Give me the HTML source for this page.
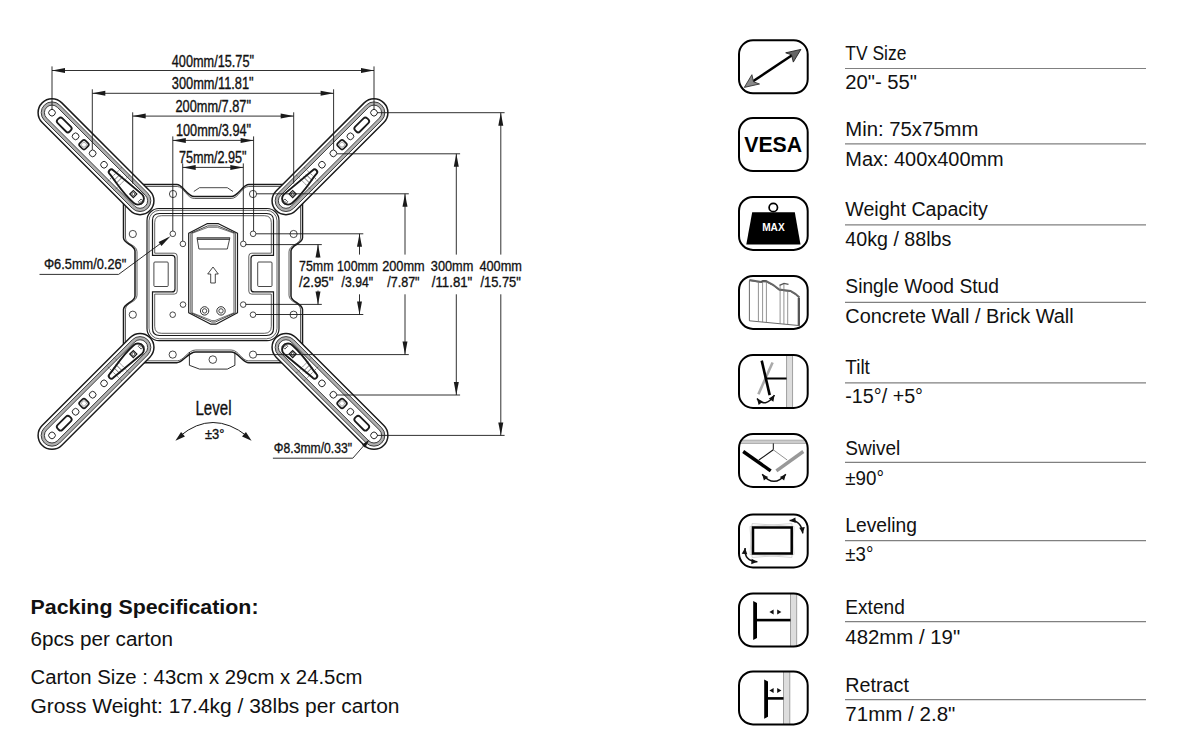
<!DOCTYPE html><html><head><meta charset="utf-8"><style>html,body{margin:0;padding:0;background:#fff;}svg{display:block;} text{font-family:"Liberation Sans", sans-serif;}</style></head><body>
<svg width="1185" height="740" viewBox="0 0 1185 740">
<defs><clipPath id="bx"><rect x="1" y="1" width="68.7" height="53" rx="14"/></clipPath></defs>
<rect width="1185" height="740" fill="#fff"/>
<g><path d="M123.5,184.5 L176.7,184.5 C183.0,184.5 187,196.5 194.4,196.5 L231.1,196.5 C238.5,196.5 242.5,184.5 248.9,184.5 L302.5,184.5 L302.5,237.7 C302.5,244.0 291,244.5 291,251.0 L291,296.0 C291,302.5 302.5,303.0 302.5,309.6 L302.5,362.8 L248.9,362.8 C242.5,362.8 238.5,352 231.1,352 L195.7,352 C188,352 183.0,362.8 176.7,362.8 L123.5,362.8 L123.5,309.6 C123.5,303.0 135,302.5 135,296.0 L135,251.0 C135,244.5 123.5,244.0 123.5,237.7 Z" fill="#fff" stroke="#1a1a1a" stroke-width="1.5"/><path d="M125.5,186.5 L177.29999999999998,186.5 C183.6,186.5 187,198.5 194.4,198.5 L231.1,198.5 C238.5,198.5 241.9,186.5 248.3,186.5 L300.5,186.5 L300.5,238.1 C300.5,244.4 289,244.5 289,251.8 L289,295.2 C289,302.5 300.5,302.6 300.5,309.20000000000005 L300.5,360.8 L248.3,360.8 C241.9,360.8 238.5,350 231.1,350 L195.7,350 C188,350 183.6,360.8 177.29999999999998,360.8 L125.5,360.8 L125.5,309.20000000000005 C125.5,302.6 137,302.5 137,295.2 L137,251.8 C137,244.5 125.5,244.4 125.5,238.1 Z" fill="none" stroke="#333" stroke-width="0.8"/><path d="M193.8,191.5 L199.5,187.7 L227.3,187.7 L233,191.5" fill="none" stroke="#1a1a1a" stroke-width="0.8"/><path d="M189.4,352 L189.4,365.3 L199.5,369.1 L227.3,369.1 L234.9,365.3 L234.9,352" fill="none" stroke="#1a1a1a" stroke-width="0.9"/><circle cx="212.8" cy="359.6" r="3.8" fill="none" stroke="#1a1a1a" stroke-width="0.8"/><rect x="147" y="208.5" width="132" height="132.10000000000002" rx="12" fill="none" stroke="#1a1a1a" stroke-width="1.2"/><rect x="149" y="210.3" width="128" height="128.5" rx="10.5" fill="none" stroke="#1a1a1a" stroke-width="0.7"/><path d="M159.5,213.5 L266.5,213.5 Q273.5,213.5 273.5,220.5 L273.5,255.4 L254,255.4 Q251,255.4 251,258.4 L251,288.9 Q251,291.9 254,291.9 L273.5,291.9 L273.5,328.5 Q273.5,335.5 266.5,335.5 L159.5,335.5 Q152.5,335.5 152.5,328.5 L152.5,291.9 L172,291.9 Q175,291.9 175,288.9 L175,258.4 Q175,255.4 172,255.4 L152.5,255.4 L152.5,220.5 Q152.5,213.5 159.5,213.5 Z" fill="none" stroke="#1a1a1a" stroke-width="1.2"/><path d="M161.7,215.7 L264.3,215.7 Q271.3,215.7 271.3,222.7 L271.3,253.20000000000002 L251.8,253.20000000000002 Q248.8,253.20000000000002 248.8,256.20000000000005 L248.8,291.09999999999997 Q248.8,294.09999999999997 251.8,294.09999999999997 L271.3,294.09999999999997 L271.3,326.3 Q271.3,333.3 264.3,333.3 L161.7,333.3 Q154.7,333.3 154.7,326.3 L154.7,294.09999999999997 L174.2,294.09999999999997 Q177.2,294.09999999999997 177.2,291.09999999999997 L177.2,256.20000000000005 Q177.2,253.20000000000002 174.2,253.20000000000002 L154.7,253.20000000000002 L154.7,222.7 Q154.7,215.7 161.7,215.7 Z" fill="none" stroke="#1a1a1a" stroke-width="0.7"/><rect x="153.9" y="262" width="14.3" height="24.5" rx="1" fill="none" stroke="#1a1a1a" stroke-width="0.8"/><rect x="257.7" y="262" width="14.3" height="24.5" rx="1" fill="none" stroke="#1a1a1a" stroke-width="0.8"/><path d="M188.7,233.2 L207.0,223.7 L218.5,223.7 L237.5,233.2 L237.5,312.8 L216.0,324.2 L210.9,324.2 L188.7,312.8 Z" fill="none" stroke="#1a1a1a" stroke-width="1.2" stroke-linejoin="round"/><path d="M190.89999999999998,233.2 L207.66,225.89999999999998 L217.84,225.89999999999998 L235.3,233.2 L235.3,312.8 L215.34,322.0 L211.56,322.0 L190.89999999999998,312.8 Z" fill="none" stroke="#1a1a1a" stroke-width="0.8" stroke-linejoin="round"/><path d="M192.29999999999998,233.2 L208.08,227.29999999999998 L217.42,227.29999999999998 L233.9,233.2 L233.9,312.8 L214.92,320.59999999999997 L211.98000000000002,320.59999999999997 L192.29999999999998,312.8 Z" fill="none" stroke="#1a1a1a" stroke-width="0.6" stroke-linejoin="round"/><path d="M197,237.7 L229.9,237.7 L227.3,249 L198.9,249 Z" fill="none" stroke="#1a1a1a" stroke-width="0.8"/><line x1="197.3" y1="239.2" x2="229.6" y2="239.2" stroke="#1a1a1a" stroke-width="1.3" /><path d="M213,267 L218.3,274 L215.3,274 L215.3,283 L210.7,283 L210.7,274 L207.7,274 Z" fill="none" stroke="#1a1a1a" stroke-width="0.8"/><circle cx="204.6" cy="310.9" r="4.2" fill="none" stroke="#1a1a1a" stroke-width="0.9"/><circle cx="204.6" cy="310.9" r="2.2" fill="none" stroke="#1a1a1a" stroke-width="0.8"/><circle cx="221" cy="310.9" r="4.2" fill="none" stroke="#1a1a1a" stroke-width="0.9"/><circle cx="221" cy="310.9" r="2.2" fill="none" stroke="#1a1a1a" stroke-width="0.8"/><circle cx="173" cy="194" r="3.6" fill="none" stroke="#1a1a1a" stroke-width="0.8"/><circle cx="253" cy="194" r="3.6" fill="none" stroke="#1a1a1a" stroke-width="0.8"/><circle cx="132.8" cy="234" r="3.6" fill="none" stroke="#1a1a1a" stroke-width="0.8"/><circle cx="293.6" cy="234" r="3.6" fill="none" stroke="#1a1a1a" stroke-width="0.8"/><circle cx="132.8" cy="314.7" r="3.6" fill="none" stroke="#1a1a1a" stroke-width="0.8"/><circle cx="293.6" cy="314.7" r="3.6" fill="none" stroke="#1a1a1a" stroke-width="0.8"/><circle cx="172.7" cy="354.6" r="3.6" fill="none" stroke="#1a1a1a" stroke-width="0.8"/><circle cx="253" cy="354.6" r="3.6" fill="none" stroke="#1a1a1a" stroke-width="0.8"/><circle cx="172.8" cy="233.8" r="2.8" fill="none" stroke="#1a1a1a" stroke-width="0.8"/><circle cx="253.1" cy="233.8" r="2.8" fill="none" stroke="#1a1a1a" stroke-width="0.8"/><circle cx="182.9" cy="243.9" r="2.8" fill="none" stroke="#1a1a1a" stroke-width="0.8"/><circle cx="243.3" cy="243.9" r="2.8" fill="none" stroke="#1a1a1a" stroke-width="0.8"/><circle cx="183" cy="304.6" r="2.8" fill="none" stroke="#1a1a1a" stroke-width="0.8"/><circle cx="243.2" cy="304.6" r="2.8" fill="none" stroke="#1a1a1a" stroke-width="0.8"/><circle cx="172.7" cy="314.7" r="2.8" fill="none" stroke="#1a1a1a" stroke-width="0.8"/><circle cx="253" cy="314.7" r="2.8" fill="none" stroke="#1a1a1a" stroke-width="0.8"/></g>
<g transform="translate(52,112.7) rotate(45)"><path d="M0,-13.9 L124.5,-13.9 A13.9,13.9 0 0 1 124.5,13.9 L0,13.9 A13.9,13.9 0 0 1 0,-13.9 Z" fill="#fff" stroke="#1a1a1a" stroke-width="1.5"/><path d="M0,-9.2 L124.5,-9.2 A9.2,9.2 0 0 1 124.5,9.2 L0,9.2 A9.2,9.2 0 0 1 0,-9.2 Z" fill="none" stroke="#b0b0b0" stroke-width="3.0"/><path d="M0,-10.8 L124.5,-10.8 A10.8,10.8 0 0 1 124.5,10.8 L0,10.8 A10.8,10.8 0 0 1 0,-10.8 Z" fill="none" stroke="#333" stroke-width="0.9"/><path d="M0,-7.6 L124.5,-7.6 A7.6,7.6 0 0 1 124.5,7.6 L0,7.6 A7.6,7.6 0 0 1 0,-7.6 Z" fill="none" stroke="#333" stroke-width="0.9"/><circle cx="0" cy="0" r="3.3" fill="none" stroke="#1a1a1a" stroke-width="0.9"/><rect x="8.8" y="-3.4" width="17" height="6.8" rx="2.6" fill="none" stroke="#1a1a1a" stroke-width="1.8"/><circle cx="33.4" cy="0" r="3.3" fill="none" stroke="#1a1a1a" stroke-width="0.9"/><rect x="41.2" y="-4" width="8" height="8" rx="2.2" fill="none" stroke="#1a1a1a" stroke-width="1.7"/><rect x="43" y="-2.2" width="4.4" height="4.4" rx="1" fill="none" stroke="#666" stroke-width="0.6"/><circle cx="57.5" cy="0" r="3.3" fill="none" stroke="#1a1a1a" stroke-width="0.9"/><circle cx="73.6" cy="0" r="3.3" fill="none" stroke="#1a1a1a" stroke-width="0.9"/><path d="M88,-11 L88,11 M99,-11 L99,11" fill="none" stroke="#444" stroke-width="0.7" stroke-dasharray="2,1"/><path d="M91.7,-4.5 L91.7,4.5 M95.3,-4.8 L95.3,4.8" fill="none" stroke="#333" stroke-width="0.7"/><path d="M84,2.6 C95,3.5 105,7 121.5,6 A6,6 0 0 0 121.5,-6 L84,-2.6 A2.6,2.6 0 0 0 84,2.6 Z" fill="none" stroke="#1a1a1a" stroke-width="1.9" stroke-linejoin="round"/><rect x="112.5" y="-2.5" width="5" height="5" fill="none" stroke="#1a1a1a" stroke-width="1.2"/><circle cx="115" cy="0" r="1.5" fill="none" stroke="#1a1a1a" stroke-width="0.7"/><rect x="124" y="-2" width="4" height="4" fill="none" stroke="#333" stroke-width="0.8"/><path d="M124,0 L128,0 M126,-2 L126,2" stroke="#555" stroke-width="0.5"/></g>
<g transform="translate(426,0) scale(-1,1) translate(52,112.7) rotate(45)"><path d="M0,-13.9 L124.5,-13.9 A13.9,13.9 0 0 1 124.5,13.9 L0,13.9 A13.9,13.9 0 0 1 0,-13.9 Z" fill="#fff" stroke="#1a1a1a" stroke-width="1.5"/><path d="M0,-9.2 L124.5,-9.2 A9.2,9.2 0 0 1 124.5,9.2 L0,9.2 A9.2,9.2 0 0 1 0,-9.2 Z" fill="none" stroke="#b0b0b0" stroke-width="3.0"/><path d="M0,-10.8 L124.5,-10.8 A10.8,10.8 0 0 1 124.5,10.8 L0,10.8 A10.8,10.8 0 0 1 0,-10.8 Z" fill="none" stroke="#333" stroke-width="0.9"/><path d="M0,-7.6 L124.5,-7.6 A7.6,7.6 0 0 1 124.5,7.6 L0,7.6 A7.6,7.6 0 0 1 0,-7.6 Z" fill="none" stroke="#333" stroke-width="0.9"/><circle cx="0" cy="0" r="3.3" fill="none" stroke="#1a1a1a" stroke-width="0.9"/><rect x="8.8" y="-3.4" width="17" height="6.8" rx="2.6" fill="none" stroke="#1a1a1a" stroke-width="1.8"/><circle cx="33.4" cy="0" r="3.3" fill="none" stroke="#1a1a1a" stroke-width="0.9"/><rect x="41.2" y="-4" width="8" height="8" rx="2.2" fill="none" stroke="#1a1a1a" stroke-width="1.7"/><rect x="43" y="-2.2" width="4.4" height="4.4" rx="1" fill="none" stroke="#666" stroke-width="0.6"/><circle cx="57.5" cy="0" r="3.3" fill="none" stroke="#1a1a1a" stroke-width="0.9"/><circle cx="73.6" cy="0" r="3.3" fill="none" stroke="#1a1a1a" stroke-width="0.9"/><path d="M88,-11 L88,11 M99,-11 L99,11" fill="none" stroke="#444" stroke-width="0.7" stroke-dasharray="2,1"/><path d="M91.7,-4.5 L91.7,4.5 M95.3,-4.8 L95.3,4.8" fill="none" stroke="#333" stroke-width="0.7"/><path d="M84,2.6 C95,3.5 105,7 121.5,6 A6,6 0 0 0 121.5,-6 L84,-2.6 A2.6,2.6 0 0 0 84,2.6 Z" fill="none" stroke="#1a1a1a" stroke-width="1.9" stroke-linejoin="round"/><rect x="112.5" y="-2.5" width="5" height="5" fill="none" stroke="#1a1a1a" stroke-width="1.2"/><circle cx="115" cy="0" r="1.5" fill="none" stroke="#1a1a1a" stroke-width="0.7"/><rect x="124" y="-2" width="4" height="4" fill="none" stroke="#333" stroke-width="0.8"/><path d="M124,0 L128,0 M126,-2 L126,2" stroke="#555" stroke-width="0.5"/></g>
<g transform="translate(0,548.1) scale(1,-1) translate(52,112.7) rotate(45)"><path d="M0,-13.9 L124.5,-13.9 A13.9,13.9 0 0 1 124.5,13.9 L0,13.9 A13.9,13.9 0 0 1 0,-13.9 Z" fill="#fff" stroke="#1a1a1a" stroke-width="1.5"/><path d="M0,-9.2 L124.5,-9.2 A9.2,9.2 0 0 1 124.5,9.2 L0,9.2 A9.2,9.2 0 0 1 0,-9.2 Z" fill="none" stroke="#b0b0b0" stroke-width="3.0"/><path d="M0,-10.8 L124.5,-10.8 A10.8,10.8 0 0 1 124.5,10.8 L0,10.8 A10.8,10.8 0 0 1 0,-10.8 Z" fill="none" stroke="#333" stroke-width="0.9"/><path d="M0,-7.6 L124.5,-7.6 A7.6,7.6 0 0 1 124.5,7.6 L0,7.6 A7.6,7.6 0 0 1 0,-7.6 Z" fill="none" stroke="#333" stroke-width="0.9"/><circle cx="0" cy="0" r="3.3" fill="none" stroke="#1a1a1a" stroke-width="0.9"/><rect x="8.8" y="-3.4" width="17" height="6.8" rx="2.6" fill="none" stroke="#1a1a1a" stroke-width="1.8"/><circle cx="33.4" cy="0" r="3.3" fill="none" stroke="#1a1a1a" stroke-width="0.9"/><rect x="41.2" y="-4" width="8" height="8" rx="2.2" fill="none" stroke="#1a1a1a" stroke-width="1.7"/><rect x="43" y="-2.2" width="4.4" height="4.4" rx="1" fill="none" stroke="#666" stroke-width="0.6"/><circle cx="57.5" cy="0" r="3.3" fill="none" stroke="#1a1a1a" stroke-width="0.9"/><circle cx="73.6" cy="0" r="3.3" fill="none" stroke="#1a1a1a" stroke-width="0.9"/><path d="M88,-11 L88,11 M99,-11 L99,11" fill="none" stroke="#444" stroke-width="0.7" stroke-dasharray="2,1"/><path d="M91.7,-4.5 L91.7,4.5 M95.3,-4.8 L95.3,4.8" fill="none" stroke="#333" stroke-width="0.7"/><path d="M84,2.6 C95,3.5 105,7 121.5,6 A6,6 0 0 0 121.5,-6 L84,-2.6 A2.6,2.6 0 0 0 84,2.6 Z" fill="none" stroke="#1a1a1a" stroke-width="1.9" stroke-linejoin="round"/><rect x="112.5" y="-2.5" width="5" height="5" fill="none" stroke="#1a1a1a" stroke-width="1.2"/><circle cx="115" cy="0" r="1.5" fill="none" stroke="#1a1a1a" stroke-width="0.7"/><rect x="124" y="-2" width="4" height="4" fill="none" stroke="#333" stroke-width="0.8"/><path d="M124,0 L128,0 M126,-2 L126,2" stroke="#555" stroke-width="0.5"/></g>
<g transform="translate(426,548.1) scale(-1,-1) translate(52,112.7) rotate(45)"><path d="M0,-13.9 L124.5,-13.9 A13.9,13.9 0 0 1 124.5,13.9 L0,13.9 A13.9,13.9 0 0 1 0,-13.9 Z" fill="#fff" stroke="#1a1a1a" stroke-width="1.5"/><path d="M0,-9.2 L124.5,-9.2 A9.2,9.2 0 0 1 124.5,9.2 L0,9.2 A9.2,9.2 0 0 1 0,-9.2 Z" fill="none" stroke="#b0b0b0" stroke-width="3.0"/><path d="M0,-10.8 L124.5,-10.8 A10.8,10.8 0 0 1 124.5,10.8 L0,10.8 A10.8,10.8 0 0 1 0,-10.8 Z" fill="none" stroke="#333" stroke-width="0.9"/><path d="M0,-7.6 L124.5,-7.6 A7.6,7.6 0 0 1 124.5,7.6 L0,7.6 A7.6,7.6 0 0 1 0,-7.6 Z" fill="none" stroke="#333" stroke-width="0.9"/><circle cx="0" cy="0" r="3.3" fill="none" stroke="#1a1a1a" stroke-width="0.9"/><rect x="8.8" y="-3.4" width="17" height="6.8" rx="2.6" fill="none" stroke="#1a1a1a" stroke-width="1.8"/><circle cx="33.4" cy="0" r="3.3" fill="none" stroke="#1a1a1a" stroke-width="0.9"/><rect x="41.2" y="-4" width="8" height="8" rx="2.2" fill="none" stroke="#1a1a1a" stroke-width="1.7"/><rect x="43" y="-2.2" width="4.4" height="4.4" rx="1" fill="none" stroke="#666" stroke-width="0.6"/><circle cx="57.5" cy="0" r="3.3" fill="none" stroke="#1a1a1a" stroke-width="0.9"/><circle cx="73.6" cy="0" r="3.3" fill="none" stroke="#1a1a1a" stroke-width="0.9"/><path d="M88,-11 L88,11 M99,-11 L99,11" fill="none" stroke="#444" stroke-width="0.7" stroke-dasharray="2,1"/><path d="M91.7,-4.5 L91.7,4.5 M95.3,-4.8 L95.3,4.8" fill="none" stroke="#333" stroke-width="0.7"/><path d="M84,2.6 C95,3.5 105,7 121.5,6 A6,6 0 0 0 121.5,-6 L84,-2.6 A2.6,2.6 0 0 0 84,2.6 Z" fill="none" stroke="#1a1a1a" stroke-width="1.9" stroke-linejoin="round"/><rect x="112.5" y="-2.5" width="5" height="5" fill="none" stroke="#1a1a1a" stroke-width="1.2"/><circle cx="115" cy="0" r="1.5" fill="none" stroke="#1a1a1a" stroke-width="0.7"/><rect x="124" y="-2" width="4" height="4" fill="none" stroke="#333" stroke-width="0.8"/><path d="M124,0 L128,0 M126,-2 L126,2" stroke="#555" stroke-width="0.5"/></g>
<g><line x1="52" y1="70.5" x2="374" y2="70.5" stroke="#1a1a1a" stroke-width="0.9" /><path d="M52.00,70.50L65.00,68.00L65.00,73.00Z" fill="#1a1a1a"/><path d="M374.00,70.50L361.00,73.00L361.00,68.00Z" fill="#1a1a1a"/><line x1="52" y1="66.4" x2="52" y2="109.5" stroke="#1a1a1a" stroke-width="0.9" /><line x1="374" y1="66.4" x2="374" y2="109.5" stroke="#1a1a1a" stroke-width="0.9" /><line x1="92.3" y1="93.3" x2="333.6" y2="93.3" stroke="#1a1a1a" stroke-width="0.9" /><path d="M92.30,93.30L105.30,90.80L105.30,95.80Z" fill="#1a1a1a"/><path d="M333.60,93.30L320.60,95.80L320.60,90.80Z" fill="#1a1a1a"/><line x1="92.3" y1="89.3" x2="92.3" y2="149.8" stroke="#1a1a1a" stroke-width="0.9" /><line x1="333.6" y1="89.3" x2="333.6" y2="149.8" stroke="#1a1a1a" stroke-width="0.9" /><line x1="132.7" y1="116.1" x2="293.7" y2="116.1" stroke="#1a1a1a" stroke-width="0.9" /><path d="M132.70,116.10L145.70,113.60L145.70,118.60Z" fill="#1a1a1a"/><path d="M293.70,116.10L280.70,118.60L280.70,113.60Z" fill="#1a1a1a"/><line x1="132.7" y1="112.3" x2="132.7" y2="183.5" stroke="#1a1a1a" stroke-width="0.9" /><line x1="293.7" y1="112.3" x2="293.7" y2="183.5" stroke="#1a1a1a" stroke-width="0.9" /><line x1="172.8" y1="140.4" x2="253.6" y2="140.4" stroke="#1a1a1a" stroke-width="0.9" /><path d="M172.80,140.40L185.80,137.90L185.80,142.90Z" fill="#1a1a1a"/><path d="M253.60,140.40L240.60,142.90L240.60,137.90Z" fill="#1a1a1a"/><line x1="172.8" y1="136.4" x2="172.8" y2="231" stroke="#1a1a1a" stroke-width="0.9" /><line x1="253.6" y1="136.4" x2="253.6" y2="231" stroke="#1a1a1a" stroke-width="0.9" /><line x1="182.7" y1="167.4" x2="243.3" y2="167.4" stroke="#1a1a1a" stroke-width="0.9" /><path d="M182.70,167.40L195.70,164.90L195.70,169.90Z" fill="#1a1a1a"/><path d="M243.30,167.40L230.30,169.90L230.30,164.90Z" fill="#1a1a1a"/><line x1="182.7" y1="163.4" x2="182.7" y2="241" stroke="#1a1a1a" stroke-width="0.9" /><line x1="243.3" y1="163.4" x2="243.3" y2="241" stroke="#1a1a1a" stroke-width="0.9" /><text x="171.8" y="66.8" font-size="15.6" font-weight="normal" fill="#111" stroke="#111" stroke-width="0.35" textLength="82.2" lengthAdjust="spacingAndGlyphs">400mm/15.75&quot;</text><text x="171.8" y="89.3" font-size="15.6" font-weight="normal" fill="#111" stroke="#111" stroke-width="0.35" textLength="81.8" lengthAdjust="spacingAndGlyphs">300mm/11.81&quot;</text><text x="175.5" y="112" font-size="15.6" font-weight="normal" fill="#111" stroke="#111" stroke-width="0.35" textLength="75.5" lengthAdjust="spacingAndGlyphs">200mm/7.87&quot;</text><text x="176" y="135.8" font-size="15.6" font-weight="normal" fill="#111" stroke="#111" stroke-width="0.35" textLength="75.0" lengthAdjust="spacingAndGlyphs">100mm/3.94&quot;</text><text x="179" y="162.6" font-size="15.6" font-weight="normal" fill="#111" stroke="#111" stroke-width="0.35" textLength="67.6" lengthAdjust="spacingAndGlyphs">75mm/2.95&quot;</text><line x1="245.5" y1="244.6" x2="321.8" y2="244.6" stroke="#1a1a1a" stroke-width="0.9" /><line x1="245.5" y1="304.4" x2="321.8" y2="304.4" stroke="#1a1a1a" stroke-width="0.9" /><line x1="318" y1="244.6" x2="318" y2="257.5" stroke="#1a1a1a" stroke-width="0.9" /><line x1="318" y1="290.5" x2="318" y2="304.4" stroke="#1a1a1a" stroke-width="0.9" /><path d="M318.00,244.60L320.50,257.60L315.50,257.60Z" fill="#1a1a1a"/><path d="M318.00,304.40L315.50,291.40L320.50,291.40Z" fill="#1a1a1a"/><line x1="256" y1="233.8" x2="363.3" y2="233.8" stroke="#1a1a1a" stroke-width="0.9" /><line x1="256" y1="314.5" x2="363.3" y2="314.5" stroke="#1a1a1a" stroke-width="0.9" /><line x1="359.5" y1="233.8" x2="359.5" y2="254.6" stroke="#1a1a1a" stroke-width="0.9" /><line x1="359.5" y1="294.3" x2="359.5" y2="314.5" stroke="#1a1a1a" stroke-width="0.9" /><path d="M359.50,233.80L362.00,246.80L357.00,246.80Z" fill="#1a1a1a"/><path d="M359.50,314.50L357.00,301.50L362.00,301.50Z" fill="#1a1a1a"/><line x1="256.5" y1="193.8" x2="408.8" y2="193.8" stroke="#1a1a1a" stroke-width="0.9" /><line x1="256.5" y1="354.6" x2="408.8" y2="354.6" stroke="#1a1a1a" stroke-width="0.9" /><line x1="405" y1="193.8" x2="405" y2="254.6" stroke="#1a1a1a" stroke-width="0.9" /><line x1="405" y1="294.3" x2="405" y2="354.6" stroke="#1a1a1a" stroke-width="0.9" /><path d="M405.00,193.80L407.50,206.80L402.50,206.80Z" fill="#1a1a1a"/><path d="M405.00,354.60L402.50,341.60L407.50,341.60Z" fill="#1a1a1a"/><line x1="337" y1="153.8" x2="460.1" y2="153.8" stroke="#1a1a1a" stroke-width="0.9" /><line x1="337" y1="395" x2="460.1" y2="395" stroke="#1a1a1a" stroke-width="0.9" /><line x1="456.3" y1="153.8" x2="456.3" y2="254.6" stroke="#1a1a1a" stroke-width="0.9" /><line x1="456.3" y1="294.3" x2="456.3" y2="395" stroke="#1a1a1a" stroke-width="0.9" /><path d="M456.30,153.80L458.80,166.80L453.80,166.80Z" fill="#1a1a1a"/><path d="M456.30,395.00L453.80,382.00L458.80,382.00Z" fill="#1a1a1a"/><line x1="377" y1="112.7" x2="504.6" y2="112.7" stroke="#1a1a1a" stroke-width="0.9" /><line x1="377" y1="435.4" x2="504.6" y2="435.4" stroke="#1a1a1a" stroke-width="0.9" /><line x1="500.8" y1="112.7" x2="500.8" y2="254.6" stroke="#1a1a1a" stroke-width="0.9" /><line x1="500.8" y1="294.3" x2="500.8" y2="435.4" stroke="#1a1a1a" stroke-width="0.9" /><path d="M500.80,112.70L503.30,125.70L498.30,125.70Z" fill="#1a1a1a"/><path d="M500.80,435.40L498.30,422.40L503.30,422.40Z" fill="#1a1a1a"/><text x="299.1" y="271.4" font-size="15.5" font-weight="normal" fill="#111" stroke="#111" stroke-width="0.35" textLength="34.4" lengthAdjust="spacingAndGlyphs">75mm</text><text x="299.1" y="286.6" font-size="15.5" font-weight="normal" fill="#111" stroke="#111" stroke-width="0.35" textLength="34.4" lengthAdjust="spacingAndGlyphs">/2.95&quot;</text><text x="337" y="271.4" font-size="15.5" font-weight="normal" fill="#111" stroke="#111" stroke-width="0.35" textLength="41.1" lengthAdjust="spacingAndGlyphs">100mm</text><text x="341.6" y="286.6" font-size="15.5" font-weight="normal" fill="#111" stroke="#111" stroke-width="0.35" textLength="31.4" lengthAdjust="spacingAndGlyphs">/3.94&quot;</text><text x="382.2" y="271.4" font-size="15.5" font-weight="normal" fill="#111" stroke="#111" stroke-width="0.35" textLength="42.5" lengthAdjust="spacingAndGlyphs">200mm</text><text x="387.2" y="286.6" font-size="15.5" font-weight="normal" fill="#111" stroke="#111" stroke-width="0.35" textLength="32.4" lengthAdjust="spacingAndGlyphs">/7.87&quot;</text><text x="430.8" y="271.4" font-size="15.5" font-weight="normal" fill="#111" stroke="#111" stroke-width="0.35" textLength="42.5" lengthAdjust="spacingAndGlyphs">300mm</text><text x="431.8" y="286.6" font-size="15.5" font-weight="normal" fill="#111" stroke="#111" stroke-width="0.35" textLength="40.5" lengthAdjust="spacingAndGlyphs">/11.81&quot;</text><text x="479.4" y="271.4" font-size="15.5" font-weight="normal" fill="#111" stroke="#111" stroke-width="0.35" textLength="42.5" lengthAdjust="spacingAndGlyphs">400mm</text><text x="480.4" y="286.6" font-size="15.5" font-weight="normal" fill="#111" stroke="#111" stroke-width="0.35" textLength="40.5" lengthAdjust="spacingAndGlyphs">/15.75&quot;</text><text x="43.9" y="269.4" font-size="15.5" font-weight="normal" fill="#111" stroke="#111" stroke-width="0.35" textLength="82.3" lengthAdjust="spacingAndGlyphs">Φ6.5mm/0.26&quot;</text><path d="M39.5,274.4 L118.6,274.4 L168,238" fill="none" stroke="#1a1a1a" stroke-width="0.9"/><path d="M170.50,236.30L161.44,245.93L158.60,242.06Z" fill="#1a1a1a"/><text x="273.8" y="453" font-size="15.5" font-weight="normal" fill="#111" stroke="#111" stroke-width="0.35" textLength="78.2" lengthAdjust="spacingAndGlyphs">Φ8.3mm/0.33&quot;</text><path d="M272.9,458.2 L352.8,458.2 L367,442" fill="none" stroke="#1a1a1a" stroke-width="0.9"/><path d="M369.50,439.50L365.15,447.68L361.86,444.75Z" fill="#1a1a1a"/><text x="195.5" y="415.4" font-size="20.5" font-weight="normal" fill="#111" stroke="#111" stroke-width="0.35" textLength="36.0" lengthAdjust="spacingAndGlyphs">Level</text><text x="205" y="438.5" font-size="15" font-weight="normal" fill="#111" stroke="#111" stroke-width="0.35" textLength="19.4" lengthAdjust="spacingAndGlyphs">±3°</text><path d="M180,436 Q212.6,409 247,436" fill="none" stroke="#1a1a1a" stroke-width="1"/><path d="M175.40,440.80L181.08,432.04L184.96,436.61Z" fill="#1a1a1a"/><path d="M251.60,440.80L242.04,436.61L245.92,432.04Z" fill="#1a1a1a"/></g>
<text x="30.5" y="613.7" font-size="21" font-weight="bold" fill="#111" textLength="228" lengthAdjust="spacingAndGlyphs">Packing Specification:</text>
<text x="30.5" y="645.9" font-size="19.5" fill="#111" textLength="142.5" lengthAdjust="spacingAndGlyphs">6pcs per carton</text>
<text x="30.5" y="683.7" font-size="19.5" fill="#111" textLength="332" lengthAdjust="spacingAndGlyphs">Carton Size : 43cm x 29cm x 24.5cm</text>
<text x="30.5" y="713" font-size="19.5" fill="#111" textLength="369" lengthAdjust="spacingAndGlyphs">Gross Weight: 17.4kg / 38lbs per carton</text>
<g transform="translate(738,39.3)"><rect x="1" y="1" width="68.7" height="53" rx="14" fill="#fff"/><g clip-path="url(#bx)"><defs><linearGradient id="ag" x1="0" y1="0" x2="1" y2="1"><stop offset="0" stop-color="#555"/><stop offset="1" stop-color="#aaa"/></linearGradient></defs><line x1="12" y1="44" x2="57" y2="14" stroke="#000" stroke-width="2.5"/><path d="M62.9,10.1 L47.7,13.5 L53.5,15.5 L55.3,22.8 Z" fill="#666" stroke="#222" stroke-width="0.9" stroke-linejoin="round"/><path d="M6.3,48.1 L13.9,35.4 L15.5,42.5 L21.5,44.7 Z" fill="#888" stroke="#333" stroke-width="0.9" stroke-linejoin="round"/></g><rect x="1" y="1" width="68.7" height="53" rx="14" fill="none" stroke="#000" stroke-width="2"/></g>
<text x="845.3" y="60.4" font-size="19.5" fill="#111" textLength="61.1" lengthAdjust="spacingAndGlyphs">TV Size</text>
<line x1="845" y1="68.5" x2="1146" y2="68.5" stroke="#808080" stroke-width="1.2"/>
<text x="845.3" y="89.4" font-size="19.5" fill="#111" textLength="71.7" lengthAdjust="spacingAndGlyphs">20&quot;- 55&quot;</text>
<g transform="translate(738,117.1)"><rect x="1" y="1" width="68.7" height="53" rx="14" fill="#fff"/><g clip-path="url(#bx)"><text x="6.2" y="35.2" font-size="22.5" font-weight="bold" fill="#000" textLength="58" lengthAdjust="spacingAndGlyphs">VESA</text></g><rect x="1" y="1" width="68.7" height="53" rx="14" fill="none" stroke="#000" stroke-width="2"/></g>
<text x="845.3" y="136.2" font-size="19.5" fill="#111" textLength="133.1" lengthAdjust="spacingAndGlyphs">Min: 75x75mm</text>
<line x1="845" y1="143.8" x2="1146" y2="143.8" stroke="#808080" stroke-width="1.2"/>
<text x="845.3" y="165.7" font-size="19.5" fill="#111" textLength="158.4" lengthAdjust="spacingAndGlyphs">Max: 400x400mm</text>
<g transform="translate(738,195.9)"><rect x="1" y="1" width="68.7" height="53" rx="14" fill="#fff"/><g clip-path="url(#bx)"><path d="M14.2,16.3 L56.8,16.3 L62.5,48.5 L8.3,48.5 Z" fill="#000"/><circle cx="35.3" cy="11.6" r="4.2" fill="#fff" stroke="#000" stroke-width="1.7"/><text x="24.2" y="35" font-size="10" font-weight="bold" fill="#fff" textLength="22.5" lengthAdjust="spacingAndGlyphs">MAX</text></g><rect x="1" y="1" width="68.7" height="53" rx="14" fill="none" stroke="#000" stroke-width="2"/></g>
<text x="845.3" y="216.2" font-size="19.5" fill="#111" textLength="142.4" lengthAdjust="spacingAndGlyphs">Weight Capacity</text>
<line x1="845" y1="224.9" x2="1146" y2="224.9" stroke="#808080" stroke-width="1.2"/>
<text x="845.3" y="245.7" font-size="19.5" fill="#111" textLength="106.1" lengthAdjust="spacingAndGlyphs">40kg / 88lbs</text>
<g transform="translate(738,274.9)"><rect x="1" y="1" width="68.7" height="53" rx="14" fill="#fff"/><g clip-path="url(#bx)"><path d="M11.4,5.7 L23.2,7.6 L25.1,6.7 L28.4,6.9 L35,10.4 L41.2,15.2 L52.5,16.6 L57.3,19.4 L61.5,23.2 L61.5,50.7 L11.4,45.9 Z" fill="#fff" stroke="#444" stroke-width="0.8"/><path d="M11.4,5.2 L23.2,7.1 L25.1,6.2 L28.4,6.4 L35,9.9 L41.2,14.7 L52.5,16.1 L57.3,18.9 L61.5,22.7" fill="none" stroke="#666" stroke-width="2"/><line x1="60.8" y1="23" x2="60.8" y2="50.6" stroke="#555" stroke-width="2.2"/><path d="M20.4,7.5 L20.4,46.8 M24.6,7.2 L24.6,47.2 M28.4,7.2 L28.4,47.6 M42.1,10.5 L42.1,48.9 M45.9,9 L45.9,49.3 M49.7,16 L49.7,49.6" stroke="#777" stroke-width="0.8"/><path d="M41.5,10.5 L46,8.5 L50.5,9.5" fill="none" stroke="#555" stroke-width="1.4"/><path d="M23,7 L25.5,5.8 L28.5,6" fill="none" stroke="#555" stroke-width="1.4"/></g><rect x="1" y="1" width="68.7" height="53" rx="14" fill="none" stroke="#000" stroke-width="2"/></g>
<text x="845.3" y="293" font-size="19.5" fill="#111" textLength="153.7" lengthAdjust="spacingAndGlyphs">Single Wood Stud</text>
<line x1="845" y1="302.3" x2="1146" y2="302.3" stroke="#808080" stroke-width="1.2"/>
<text x="845.3" y="323.3" font-size="19.5" fill="#111" textLength="228.4" lengthAdjust="spacingAndGlyphs">Concrete Wall / Brick Wall</text>
<g transform="translate(738,354)"><rect x="1" y="1" width="68.7" height="53" rx="14" fill="#fff"/><g clip-path="url(#bx)"><rect x="48.6" y="-2" width="6" height="60" fill="#ddd" stroke="#999" stroke-width="0.9"/><line x1="34.6" y1="8.5" x2="20.4" y2="40.2" stroke="#aaa" stroke-width="2.6"/><line x1="23.7" y1="6.6" x2="31.7" y2="41.1" stroke="#000" stroke-width="2.6"/><line x1="28.5" y1="24.6" x2="48.6" y2="24.6" stroke="#000" stroke-width="2"/><path d="M19,44.5 Q27.25,54.6 36.5,41.1" fill="none" stroke="#111" stroke-width="1.5"/><path d="M19.00,44.50L24.96,47.38L20.63,50.92Z" fill="#111"/><path d="M36.50,41.10L35.42,47.63L30.80,44.47Z" fill="#111"/></g><rect x="1" y="1" width="68.7" height="53" rx="14" fill="none" stroke="#000" stroke-width="2"/></g>
<text x="845.3" y="374.3" font-size="19.5" fill="#111" textLength="24.6" lengthAdjust="spacingAndGlyphs">Tilt</text>
<line x1="845" y1="382.9" x2="1146" y2="382.9" stroke="#808080" stroke-width="1.2"/>
<text x="845.3" y="403.2" font-size="19.5" fill="#111" textLength="77.7" lengthAdjust="spacingAndGlyphs">-15°/ +5°</text>
<g transform="translate(738,433)"><rect x="1" y="1" width="68.7" height="53" rx="14" fill="#fff"/><g clip-path="url(#bx)"><rect x="-2" y="7.1" width="74" height="3.3" fill="#ccc" stroke="#999" stroke-width="0.7"/><line x1="35.3" y1="10.4" x2="35.3" y2="16.8" stroke="#111" stroke-width="1"/><line x1="35.3" y1="16.8" x2="20.9" y2="27" stroke="#111" stroke-width="1.1"/><line x1="35.3" y1="16.8" x2="49.2" y2="27" stroke="#777" stroke-width="0.8"/><line x1="5.2" y1="18.5" x2="32.7" y2="37.9" stroke="#000" stroke-width="3.4"/><line x1="65.3" y1="18.5" x2="38.4" y2="37.9" stroke="#999" stroke-width="3.4"/><path d="M24.2,41.2 Q36,55.4 47.8,41.2" fill="none" stroke="#111" stroke-width="1.5"/><path d="M24.20,41.20L30.19,44.03L25.88,47.60Z" fill="#111"/><path d="M47.80,41.20L46.12,47.60L41.81,44.03Z" fill="#111"/></g><rect x="1" y="1" width="68.7" height="53" rx="14" fill="none" stroke="#000" stroke-width="2"/></g>
<text x="845.3" y="454.8" font-size="19.5" fill="#111" textLength="55.0" lengthAdjust="spacingAndGlyphs">Swivel</text>
<line x1="845" y1="462.4" x2="1146" y2="462.4" stroke="#808080" stroke-width="1.2"/>
<text x="845.3" y="484.7" font-size="19.5" fill="#111" textLength="38.7" lengthAdjust="spacingAndGlyphs">±90°</text>
<g transform="translate(738,513.5)"><rect x="1" y="1" width="68.7" height="53" rx="14" fill="#fff"/><g clip-path="url(#bx)"><rect x="13" y="11.5" width="42" height="31" fill="none" stroke="#ccc" stroke-width="0.8" transform="rotate(4 34 27)"/><rect x="13" y="11.5" width="42" height="31" fill="none" stroke="#ccc" stroke-width="0.8" transform="rotate(-4 34 27)"/><rect x="15" y="14" width="38.7" height="26" fill="#fff" stroke="#000" stroke-width="2.5"/><path d="M51.6,7.1 Q63,6.3 64.8,19.9" fill="none" stroke="#111" stroke-width="1.5"/><path d="M51.60,7.10L57.39,3.89L57.78,9.47Z" fill="#111"/><path d="M64.80,19.90L61.24,14.32L66.79,13.58Z" fill="#111"/><path d="M7.1,34.5 Q5.75,47.6 19.4,48.3" fill="none" stroke="#111" stroke-width="1.5"/><path d="M7.10,34.50L9.27,40.76L3.70,40.18Z" fill="#111"/><path d="M19.40,48.30L13.26,50.79L13.55,45.20Z" fill="#111"/></g><rect x="1" y="1" width="68.7" height="53" rx="14" fill="none" stroke="#000" stroke-width="2"/></g>
<text x="845.3" y="531.8" font-size="19.5" fill="#111" textLength="71.7" lengthAdjust="spacingAndGlyphs">Leveling</text>
<line x1="845" y1="540.6" x2="1146" y2="540.6" stroke="#808080" stroke-width="1.2"/>
<text x="845.3" y="561.4" font-size="19.5" fill="#111" textLength="28.1" lengthAdjust="spacingAndGlyphs">±3°</text>
<g transform="translate(738,592.6)"><rect x="1" y="1" width="68.7" height="53" rx="14" fill="#fff"/><g clip-path="url(#bx)"><rect x="52.5" y="-2" width="6.2" height="60" fill="#ddd" stroke="#999" stroke-width="0.9"/><path d="M15.2,8.5 L19,10.5 L19,45.3 L15.2,47.3 Z" fill="#000"/><rect x="18" y="26.2" width="34.5" height="2.6" fill="#000"/><path d="M35.6,16.799999999999997 L31.4,19.4 L35.6,22.0 Z" fill="#111"/><path d="M39.199999999999996,16.799999999999997 L43.4,19.4 L39.199999999999996,22.0 Z" fill="#111"/></g><rect x="1" y="1" width="68.7" height="53" rx="14" fill="none" stroke="#000" stroke-width="2"/></g>
<text x="845.3" y="614.3" font-size="19.5" fill="#111" textLength="59.5" lengthAdjust="spacingAndGlyphs">Extend</text>
<line x1="845" y1="621.6" x2="1146" y2="621.6" stroke="#808080" stroke-width="1.2"/>
<text x="845.3" y="643.7" font-size="19.5" fill="#111" textLength="114.9" lengthAdjust="spacingAndGlyphs">482mm / 19&quot;</text>
<g transform="translate(738,670.4)"><rect x="1" y="1" width="68.7" height="53" rx="14" fill="#fff"/><g clip-path="url(#bx)"><rect x="45.5" y="-2" width="6.3" height="60" fill="#ddd" stroke="#999" stroke-width="0.9"/><path d="M26.2,9 L30,11 L30,46.3 L26.2,48.3 Z" fill="#000"/><rect x="29" y="26.7" width="16.5" height="2.6" fill="#000"/><path d="M35.6,17.5 L31.4,20.1 L35.6,22.700000000000003 Z" fill="#111"/><path d="M39.199999999999996,17.5 L43.4,20.1 L39.199999999999996,22.700000000000003 Z" fill="#111"/></g><rect x="1" y="1" width="68.7" height="53" rx="14" fill="none" stroke="#000" stroke-width="2"/></g>
<text x="845.3" y="692.3" font-size="19.5" fill="#111" textLength="63.6" lengthAdjust="spacingAndGlyphs">Retract</text>
<line x1="845" y1="699.7" x2="1146" y2="699.7" stroke="#808080" stroke-width="1.2"/>
<text x="845.3" y="721.1" font-size="19.5" fill="#111" textLength="110.1" lengthAdjust="spacingAndGlyphs">71mm / 2.8&quot;</text>
</svg></body></html>
